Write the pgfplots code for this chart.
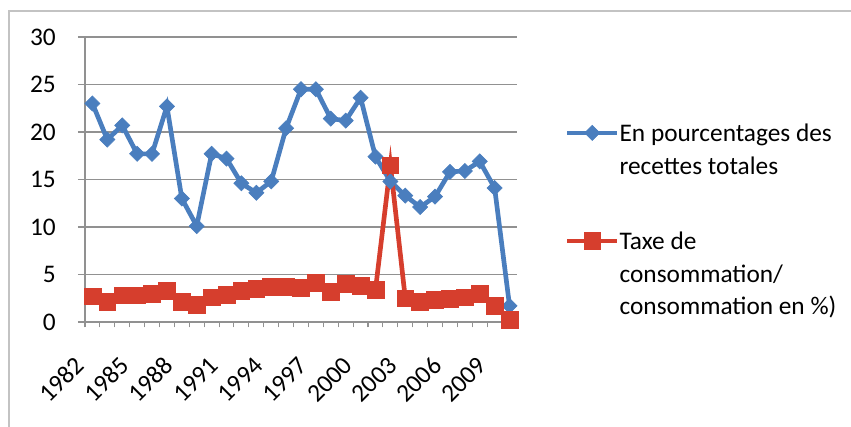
\documentclass[border=0pt]{standalone}
\usepackage{fontspec}
\setmainfont{Carlito}
\usepackage{pgfplots}
\pgfplotsset{compat=1.18}

\definecolor{serieA}{RGB}{74,126,190}
\definecolor{serieB}{RGB}{214,62,45}
\definecolor{axisgray}{RGB}{145,145,145}
\definecolor{framegray}{RGB}{195,195,195}

\newcommand{\chartfont}{\fontsize{19}{24.5}\selectfont}

\begin{document}
\begin{tikzpicture}
\useasboundingbox (0,0) rectangle (638.25pt,320.25pt);
% chart frame
\draw[framegray, line width=1.5pt] (6.75pt,-2pt) -- (6.75pt,312pt) -- (641pt,312pt);
\begin{axis}[
  at={(63.75pt,78.75pt)}, anchor=south west,
  scale only axis, width=324pt, height=213.75pt,
  xmin=1981.5, xmax=2010.5, ymin=0, ymax=30,
  clip=false,
  axis lines*=left,
  axis line style={axisgray, line width=0.8pt, -},
  ytick={0,5,...,30},
  xtick={1982,1985,...,2009},
  minor xtick={1981.5,1982.5,...,2010.5},
  every major x tick/.append style={draw=none},
  tick align=outside,
  major tick length=5.25pt, minor tick length=4pt,
  tick style={axisgray, line width=0.8pt},
  ymajorgrids,
  major grid style={axisgray, line width=0.8pt},
  /pgf/number format/assume math mode=true,
  tick label style={font=\chartfont, text=black},
  xticklabel={\pgfmathprintnumber[1000 sep={}]{\tick}},
  yticklabel style={anchor=east, inner sep=0pt, xshift=-16.5pt},
  xticklabel style={anchor=east, inner sep=0pt, xshift=-9.5pt, yshift=-24pt, rotate=45},
  legend style={
    at={(rel axis cs:1.111,0.7137)}, anchor=north west,
    draw=none, fill=none, inner sep=0pt, outer sep=0pt,
    row sep=62.5pt, column sep=0pt,
    font=\chartfont,
    nodes={inner sep=0pt},
    cells={anchor=mid west},
  },
  legend image code/.code={
    \draw[#1, mark repeat=2, mark phase=2, yshift=4pt]
      plot coordinates {(0pt,0pt) (18.75pt,0pt) (37.5pt,0pt)};
  },
]
\addplot[color=serieA, line width=3.5pt, mark=square*, mark size=4pt,
  mark options={rotate=45, solid, line width=0.5pt}]
  coordinates {
  (1982,23.0) (1983,19.2) (1984,20.7) (1985,17.7) (1986,17.7)
  (1987,22.7) (1988,13.0) (1989,10.1) (1990,17.7) (1991,17.2)
  (1992,14.6) (1993,13.6) (1994,14.8) (1995,20.4) (1996,24.5)
  (1997,24.5) (1998,21.4) (1999,21.2) (2000,23.6) (2001,17.4)
  (2002,14.8) (2003,13.3) (2004,12.1) (2005,13.2) (2006,15.8)
  (2007,15.9) (2008,16.9) (2009,14.1) (2010,1.7)
  };
\addlegendentry{\begin{tabular}[t]{@{}l@{}}En pourcentages des\\recettes totales\end{tabular}}

\addplot[color=serieB, line width=3.5pt, mark=square*, mark size=6.3pt,
  mark options={solid, line width=0.5pt}]
  coordinates {
  (1982,2.7) (1983,2.1) (1984,2.8) (1985,2.8) (1986,3.0)
  (1987,3.3) (1988,2.1) (1989,1.8) (1990,2.6) (1991,2.9)
  (1992,3.3) (1993,3.5) (1994,3.7) (1995,3.7) (1996,3.6)
  (1997,4.1) (1998,3.2) (1999,4.0) (2000,3.8) (2001,3.4)
  (2002,16.5) (2003,2.5) (2004,2.1) (2005,2.3) (2006,2.4)
  (2007,2.6) (2008,3.0) (2009,1.7) (2010,0.2)
  };
\addlegendentry{\begin{tabular}[t]{@{}l@{}}Taxe de\\consommation/\\consommation en \%)\end{tabular}}
\end{axis}
\end{tikzpicture}
\end{document}
